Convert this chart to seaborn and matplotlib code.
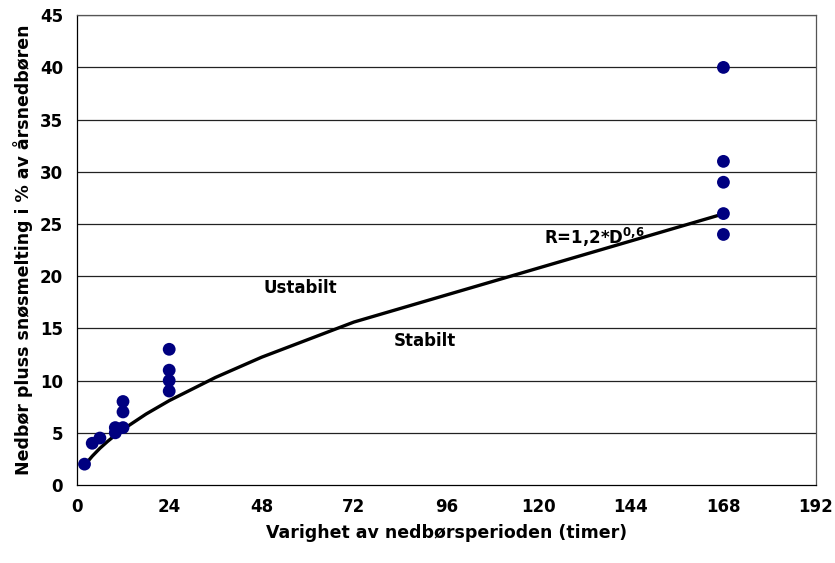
import matplotlib
matplotlib.use("Agg")
import matplotlib.pyplot as plt
import pandas as pd
import seaborn as sns

# observed events: duration (hours) and precip + snowmelt (% of annual)
obs_hours = [2, 4, 6, 10, 10, 12, 12, 12, 24, 24, 24, 24, 168, 168, 168, 168, 168]
obs_pct = [2, 4, 4.5, 5, 5.5, 5.5, 7, 8, 9, 10, 11, 13, 24, 26, 29, 31, 40]

# curve R=1,2*D^0,6
curve_hours = [2, 3, 4, 6, 8, 10, 12, 18, 24, 36, 48, 72, 168]
curve_pct = [1.82, 2.32, 2.76, 3.52, 4.18, 4.78, 5.33, 6.8, 8.08, 10.3, 12.24, 15.61, 25.97]

x_ticks = [0, 24, 48, 72, 96, 120, 144, 168, 192]
y_ticks = [0, 5, 10, 15, 20, 25, 30, 35, 40, 45]

sns.set_style("white")
plt.rcParams["font.family"] = ["DejaVu Sans"]
plt.rcParams["font.weight"] = "bold"
plt.rcParams["mathtext.fontset"] = "dejavusans"
plt.rcParams["text.color"] = "black"
plt.rcParams["axes.labelcolor"] = "black"

obs = pd.DataFrame({"hours": obs_hours, "pct": obs_pct})
curve = pd.DataFrame({"hours": curve_hours, "pct": curve_pct})

fig = plt.figure(figsize=(8.35, 5.63), dpi=100)
ax = fig.add_axes([0.092, 0.1385, 0.885, 0.8345])

for y in y_ticks[1:]:
    ax.axhline(y, color="#222222", lw=0.9, zorder=0)

sns.lineplot(data=curve, x="hours", y="pct", color="black", lw=2.4, ax=ax,
             sort=False, zorder=2)
sns.scatterplot(data=obs, x="hours", y="pct", color="#000080", s=85,
                edgecolor="none", ax=ax, zorder=3)

ax.text(58, 18.9, "Ustabilt", fontsize=12, fontweight="bold", ha="center", va="center")
ax.text(90.5, 13.8, "Stabilt", fontsize=12, fontweight="bold", ha="center", va="center")
ax.text(121.5, 23.7, r"R=1,2*D$^{\mathbf{0{,}6}}$", fontsize=12, fontweight="bold",
        ha="left", va="center")

ax.set_xlim(0, 192)
ax.set_ylim(0, 45)
ax.set_xticks(x_ticks)
ax.set_yticks(y_ticks)
ax.tick_params(axis="both", direction="out", length=5, width=0.9, labelsize=12,
               colors="black", pad=5)
ax.tick_params(axis="x", pad=4)
for lab in ax.get_xticklabels() + ax.get_yticklabels():
    lab.set_fontweight("bold")

for side in ["left", "bottom"]:
    ax.spines[side].set_color("black")
    ax.spines[side].set_linewidth(0.9)
for side in ["top", "right"]:
    ax.spines[side].set_color("#555555")
    ax.spines[side].set_linewidth(0.9)

ax.set_xlabel("Varighet av nedbørsperioden (timer)", fontsize=12.5, fontweight="bold",
              labelpad=6)
ax.set_ylabel("Nedbør pluss snøsmelting i % av årsnedbøren", fontsize=12.5,
              fontweight="bold", labelpad=5)

fig.savefig("out.png", dpi=100)
